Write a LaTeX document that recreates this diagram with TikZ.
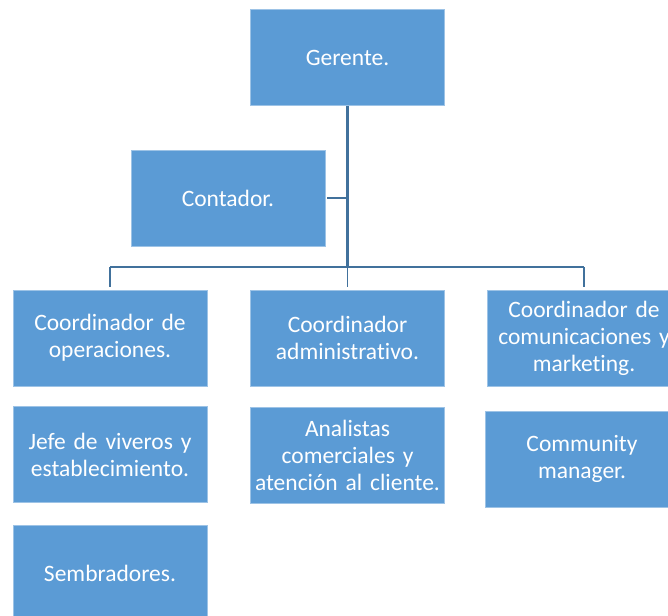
\documentclass[tikz,border=0pt]{standalone}
\usepackage{fontspec}
\setmainfont{Carlito}[Ligatures={NoCommon},WordSpace=0.8]
\definecolor{boxfill}{HTML}{5B9BD5}
\definecolor{boxedge}{HTML}{9DC3E6}
\definecolor{linecol}{HTML}{41719C}
\begin{document}
\begin{tikzpicture}[x=1pt,y=-1pt,
  orgbox/.style={rectangle, fill=boxfill, draw=boxedge, line width=0.8pt,
    minimum width=194pt, minimum height=96pt, text width=192pt, align=center,
    text=white, inner sep=1pt,
    font=\fontsize{23.5}{27}\selectfont},
  conn/.style={draw=linecol, line width=2.6pt},
  connthin/.style={draw=linecol, line width=1.8pt}]
\useasboundingbox (0,0) rectangle (668,615);
\clip (0,0) rectangle (668,615);
\node[orgbox] (ger) at (347.5,57.5) {Gerente.};
\node[orgbox] (cont) at (228,198) {Contador.};
\node[orgbox] (op) at (110,338) {Coordinador de\\operaciones.};
\node[orgbox] (adm) at (347.5,338) {Coordinador\\administrativo.};
\node[orgbox] (com) at (584,338) {Coordinador de\\comunicaciones y\\marketing.};
\node[orgbox] (jefe) at (110,454.5) {Jefe de viveros y\\establecimiento.};
\node[orgbox] (anal) at (347.5,455.5) {Analistas\\comerciales y\\atención al cliente.};
\node[orgbox] (cm) at (582,459) {Community\\manager.};
\node[orgbox] (sem) at (110,573) {Sembradores.};
\coordinate (hub) at (347.5,267);
\coordinate (hl) at (110,267);
\coordinate (hr) at (584,267);
\draw[conn] (ger.south) -- (hub);
\draw[connthin] ([xshift=2pt]cont.east) -- (cont.east -| hub);
\draw[connthin] (hl) -- (hr);
\draw[connthin,shorten >=3pt] (hl) -- (op.north);
\draw[connthin,shorten >=3pt] (hub) -- (adm.north);
\draw[connthin,shorten >=3pt] (hr) -- (com.north);
\end{tikzpicture}
\end{document}
